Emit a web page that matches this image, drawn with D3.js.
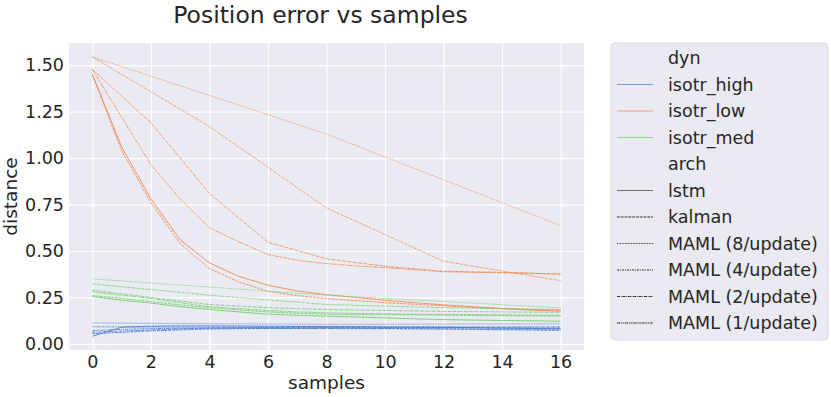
<!DOCTYPE html>
<html>
<head>
<meta charset="utf-8">
<script src="https://cdn.jsdelivr.net/npm/d3@7"></script>
<style>
    body { margin: 0; background: #ffffff; }
    text { font-family: "DejaVu Sans", sans-serif; fill: #262626; }
    .grid line { stroke: #ffffff; stroke-width: 1.2; }
    .grid path { display: none; }
    .axis path, .axis line { display: none; }
</style>
</head>
<body>
<div id="chart"></div>
<script>

// x positions of the evaluation points
let samplesEvery = [0, 1, 2, 3, 4, 5, 6, 7, 8, 9, 10, 11, 12, 13, 14, 15, 16];
let samplesBy2 = [0, 2, 4, 6, 8, 10, 12, 14, 16];
let samplesBy4 = [0, 4, 8, 12, 16];
let samplesBy8 = [0, 8, 16];

let dynNames = ["isotr_high", "isotr_low", "isotr_med"];
let archNames = ["lstm", "kalman", "MAML (8/update)", "MAML (4/update)", "MAML (2/update)", "MAML (1/update)"];
let xTicks = [0, 2, 4, 6, 8, 10, 12, 14, 16];
let yTicks = [0, 0.25, 0.5, 0.75, 1.0, 1.25, 1.5];

// isotr_low
let lowLstm = [1.45, 1.06, 0.78, 0.56, 0.436, 0.364, 0.316, 0.285, 0.265, 0.25, 0.235, 0.222, 0.21, 0.2, 0.19, 0.182, 0.176];
let lowKalman = [1.45, 1.04, 0.76, 0.54, 0.405, 0.334, 0.283, 0.26, 0.244, 0.233, 0.222, 0.213, 0.205, 0.197, 0.19, 0.185, 0.18];
let lowMaml8 = [1.545, 1.13, 0.637];
let lowMaml4 = [1.545, 1.17, 0.732, 0.445, 0.34];
let lowMaml2 = [1.477, 1.19, 0.81, 0.547, 0.458, 0.418, 0.391, 0.385, 0.375];
let lowMaml1 = [1.477, 1.22, 0.966, 0.78, 0.625, 0.55, 0.481, 0.45, 0.432, 0.42, 0.41, 0.4, 0.388, 0.385, 0.383, 0.38, 0.377];

// isotr_med
let medLstm = [0.255, 0.235, 0.22, 0.2, 0.185, 0.172, 0.16, 0.154, 0.149, 0.145, 0.14, 0.135, 0.131, 0.128, 0.126, 0.124, 0.122];
let medKalman = [0.26, 0.245, 0.228, 0.21, 0.195, 0.183, 0.172, 0.165, 0.16, 0.158, 0.157, 0.156, 0.155, 0.153, 0.152, 0.151, 0.15];
let medMaml8 = [0.35, 0.262, 0.194];
let medMaml4 = [0.323, 0.262, 0.212, 0.195, 0.185];
let medMaml2 = [0.289, 0.25, 0.212, 0.195, 0.185, 0.18, 0.175, 0.172, 0.17];
let medMaml1 = [0.28, 0.262, 0.245, 0.222, 0.2, 0.19, 0.18, 0.172, 0.167, 0.164, 0.162, 0.16, 0.158, 0.157, 0.156, 0.155, 0.154];

// isotr_high
let highLstm = [0.041, 0.09, 0.095, 0.097, 0.097, 0.096, 0.095, 0.094, 0.093, 0.092, 0.091, 0.09, 0.089, 0.087, 0.085, 0.083, 0.081];
let highKalman = [0.055, 0.062, 0.07, 0.075, 0.08, 0.082, 0.083, 0.084, 0.085, 0.084, 0.083, 0.082, 0.08, 0.078, 0.076, 0.074, 0.072];
let highMaml8 = [0.113, 0.105, 0.108];
let highMaml4 = [0.092, 0.09, 0.09, 0.092, 0.092];
let highMaml2 = [0.063, 0.075, 0.085, 0.088, 0.09, 0.089, 0.088, 0.087, 0.086];
let highMaml1 = [0.072, 0.078, 0.082, 0.084, 0.085, 0.085, 0.084, 0.083, 0.083, 0.082, 0.082, 0.081, 0.081, 0.08, 0.08, 0.079, 0.079];

let dynColors = { isotr_high: "#4878d0", isotr_low: "#ee854a", isotr_med: "#6acc64" };
let archDash = {
    "lstm": null,
    "kalman": "2.8,1",
    "MAML (8/update)": "0.8,0.8",
    "MAML (4/update)": "2.2,0.9,1,0.9",
    "MAML (2/update)": "3,0.8,0.8,0.8",
    "MAML (1/update)": "3,0.8,1.4,0.8,1.4,0.8"
};

let archX = {
    "lstm": samplesEvery, "kalman": samplesEvery,
    "MAML (8/update)": samplesBy8, "MAML (4/update)": samplesBy4,
    "MAML (2/update)": samplesBy2, "MAML (1/update)": samplesEvery
};
let seriesValues = {
    isotr_high: [highLstm, highKalman, highMaml8, highMaml4, highMaml2, highMaml1],
    isotr_low: [lowLstm, lowKalman, lowMaml8, lowMaml4, lowMaml2, lowMaml1],
    isotr_med: [medLstm, medKalman, medMaml8, medMaml4, medMaml2, medMaml1]
};

let series = [];
dynNames.forEach(dyn => {
    archNames.forEach((arch, i) => {
        series.push({
            dyn: dyn, arch: arch,
            points: seriesValues[dyn][i].map((v, j) => ({ x: archX[arch][j], y: v }))
        });
    });
});

let margin = { top: 43, right: 247, bottom: 47, left: 69 };
let totalW = 831, totalH = 397;
let width = totalW - margin.left - margin.right,
    height = totalH - margin.top - margin.bottom;

let svg = d3.select("#chart").append("svg")
    .attr("width", totalW)
    .attr("height", totalH);

let g = svg.append("g")
    .attr("transform", "translate(" + margin.left + "," + margin.top + ")");

// Scales
let x = d3.scaleLinear().domain([-0.8, 16.8]).range([0, width]);
let y = d3.scaleLinear().domain([-0.033, 1.62]).range([height, 0]);

g.append("rect")
    .attr("width", width)
    .attr("height", height)
    .attr("fill", "#eaeaf2");

// Grid
g.append("g")
    .attr("class", "grid")
    .attr("transform", "translate(0," + height + ")")
    .call(d3.axisBottom(x).tickValues(xTicks).tickSize(-height).tickFormat(""));
g.append("g")
    .attr("class", "grid")
    .call(d3.axisLeft(y).tickValues(yTicks).tickSize(-width).tickFormat(""));

// Lines
let line = d3.line()
    .x(d => x(d.x))
    .y(d => y(d.y));

g.selectAll(".series")
    .data(series)
    .enter()
    .append("path")
    .attr("class", "series")
    .attr("fill", "none")
    .attr("stroke", d => dynColors[d.dyn])
    .attr("stroke-width", 1)
    .attr("stroke-opacity", 0.85)
    .attr("stroke-dasharray", d => archDash[d.arch])
    .attr("d", d => line(d.points));

// Axes
let xAxis = g.append("g")
    .attr("class", "axis")
    .attr("transform", "translate(0," + height + ")")
    .call(d3.axisBottom(x).tickValues(xTicks).tickSize(0).tickPadding(6));
xAxis.selectAll("text").style("font-size", "17.5px");

let yAxis = g.append("g")
    .attr("class", "axis")
    .call(d3.axisLeft(y).tickValues(yTicks).tickSize(0).tickPadding(5).tickFormat(d3.format(".2f")));
yAxis.selectAll("text").style("font-size", "17.5px");

// Axis titles
svg.append("text")
    .attr("x", margin.left + width / 2)
    .attr("y", 389)
    .attr("text-anchor", "middle")
    .style("font-size", "18.5px")
    .text("samples");

svg.append("text")
    .attr("transform", "translate(17," + (margin.top + height / 2) + ") rotate(-90)")
    .attr("text-anchor", "middle")
    .style("font-size", "18.5px")
    .text("distance");

svg.append("text")
    .attr("x", margin.left + width / 2 - 6)
    .attr("y", 23)
    .attr("text-anchor", "middle")
    .style("font-size", "23.5px")
    .text("Position error vs samples");

// Legend
let legend = svg.append("g").attr("transform", "translate(611,43)");
legend.append("rect")
    .attr("width", 217)
    .attr("height", 297)
    .attr("rx", 4)
    .attr("fill", "#eaeaf2")
    .attr("stroke", "#d8d8e0")
    .attr("stroke-width", 1);

let legendItems = [{ label: "dyn", title: true }]
    .concat(dynNames.map(n => ({ label: n, color: dynColors[n], dash: null, opacity: 0.7 })))
    .concat([{ label: "arch", title: true }])
    .concat(archNames.map(n => ({ label: n, color: n === "lstm" ? "#707070" : "#333333", dash: archDash[n], opacity: 1 })));

let rows = legend.selectAll(".legend-row")
    .data(legendItems)
    .enter()
    .append("g")
    .attr("class", "legend-row")
    .attr("transform", (d, i) => "translate(0," + (15 + i * 26.5) + ")");

rows.filter(d => !d.title)
    .append("line")
    .attr("x1", 6)
    .attr("x2", 42)
    .attr("stroke", d => d.color)
    .attr("stroke-opacity", d => d.opacity)
    .attr("stroke-width", 1)
    .attr("stroke-dasharray", d => d.dash);

rows.append("text")
    .attr("x", 57)
    .attr("dy", "0.35em")
    .style("font-size", "17.5px")
    .text(d => d.label);

</script>
</body>
</html>
